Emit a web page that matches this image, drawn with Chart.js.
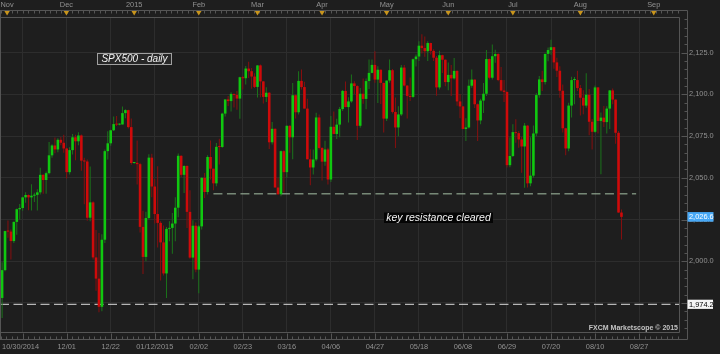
<!DOCTYPE html>
<html><head><meta charset="utf-8">
<script src="https://cdn.jsdelivr.net/npm/chart.js@4/dist/chart.umd.min.js"></script>
<style>html,body{margin:0;padding:0;background:#1e1e1e;}canvas{display:block;}</style>
</head><body>
<canvas id="c" width="720" height="354" style="width:720px;height:354px"></canvas>
<script>
// ---- data (daily candles, one per weekday) ----
const DATES = ['10/30','10/31',
'11/03','11/04','11/05','11/06','11/07','11/10','11/11','11/12','11/13','11/14','11/17','11/18','11/19','11/20','11/21','11/24','11/25','11/26','11/27','11/28',
'12/01','12/02','12/03','12/04','12/05','12/08','12/09','12/10','12/11','12/12','12/15','12/16','12/17','12/18','12/19','12/22','12/23','12/24','12/25','12/26','12/29','12/30','12/31',
'01/01','01/02','01/05','01/06','01/07','01/08','01/09','01/12','01/13','01/14','01/15','01/16','01/19','01/20','01/21','01/22','01/23','01/26','01/27','01/28','01/29','01/30',
'02/02','02/03','02/04','02/05','02/06','02/09','02/10','02/11','02/12','02/13','02/16','02/17','02/18','02/19','02/20','02/23','02/24','02/25','02/26','02/27',
'03/02','03/03','03/04','03/05','03/06','03/09','03/10','03/11','03/12','03/13','03/16','03/17','03/18','03/19','03/20','03/23','03/24','03/25','03/26','03/27','03/30','03/31',
'04/01','04/02','04/03','04/06','04/07','04/08','04/09','04/10','04/13','04/14','04/15','04/16','04/17','04/20','04/21','04/22','04/23','04/24','04/27','04/28','04/29','04/30',
'05/01','05/04','05/05','05/06','05/07','05/08','05/11','05/12','05/13','05/14','05/15','05/18','05/19','05/20','05/21','05/22','05/25','05/26','05/27','05/28','05/29',
'06/01','06/02','06/03','06/04','06/05','06/08','06/09','06/10','06/11','06/12','06/15','06/16','06/17','06/18','06/19','06/22','06/23','06/24','06/25','06/26','06/29','06/30',
'07/01','07/02','07/03','07/06','07/07','07/08','07/09','07/10','07/13','07/14','07/15','07/16','07/17','07/20','07/21','07/22','07/23','07/24','07/27','07/28','07/29','07/30','07/31',
'08/03','08/04','08/05','08/06','08/07','08/10','08/11','08/12','08/13','08/14','08/17','08/18','08/19','08/20','08/21'];

const OPEN = [1978.0,1994.7,2018.1,2017.8,2012.1,2023.6,2031.2,2031.9,2038.3,2039.7,
2038.3,2039.3,2039.8,2041.3,2051.8,2048.7,2052.8,2063.5,2069.4,2067.0,
2072.8,2071.0,2067.6,2053.4,2066.6,2074.3,2071.9,2075.4,2060.3,2059.8,
2026.1,2035.3,2002.3,1989.6,1972.7,2012.9,2066.0,2070.7,2078.5,2082.2,
2081.9,2082.0,2088.8,2090.6,2080.4,2058.9,2059.0,2058.2,2020.6,2002.6,
2025.9,2062.1,2044.8,2028.3,2023.0,2011.3,1992.7,2019.4,2020.0,2022.6,
2032.1,2063.2,2051.8,2057.1,2029.6,2002.2,2021.3,1995.0,2020.9,2050.0,
2041.5,2062.5,2055.5,2046.7,2068.6,2068.5,2088.5,2097.0,2096.0,2100.3,
2099.7,2097.5,2110.3,2109.7,2115.5,2113.9,2110.7,2104.5,2117.4,2107.8,
2098.5,2101.0,2071.3,2079.4,2044.2,2040.2,2066.0,2053.4,2081.2,2074.3,
2099.5,2089.3,2108.1,2104.4,2091.5,2061.1,2056.2,2061.0,2086.2,2067.9,
2059.7,2067.0,2049.0,2080.6,2076.3,2081.9,2091.2,2102.1,2092.4,2095.8,
2106.6,2105.0,2081.2,2100.4,2097.3,2108.0,2112.9,2117.7,2108.9,2114.8,
2106.9,2085.5,2108.3,2114.5,2089.5,2080.2,2088.0,2116.1,2105.3,2099.1,
2098.5,2121.1,2122.7,2129.2,2127.8,2125.9,2130.8,2126.1,2122.0,2104.2,
2123.5,2120.8,2107.4,2111.7,2109.6,2114.1,2095.8,2092.8,2079.3,2080.2,
2105.2,2108.9,2094.1,2084.4,2096.3,2100.4,2121.2,2110.0,2122.9,2124.2,
2108.6,2102.3,2101.5,2057.6,2063.1,2077.4,2076.8,2073.0,2068.8,2081.3,
2046.7,2051.3,2076.6,2099.6,2109.0,2107.4,2124.3,2126.6,2128.3,2119.2,
2114.2,2102.2,2079.7,2067.6,2093.3,2108.6,2108.6,2103.8,2098.0,2093.3,
2099.8,2083.6,2077.6,2104.2,2084.1,2086.1,2083.4,2091.5,2102.4,2096.9,2077.0,2029.2];

const HIGH = [1999.4,2018.3,2024.5,2019.0,2023.9,2031.6,2034.3,2038.7,2041.3,2040.0,
2046.2,2041.1,2043.1,2056.1,2052.1,2053.8,2071.5,2070.2,2074.2,2073.8,
2074.5,2075.8,2068.0,2068.4,2076.3,2075.8,2077.3,2076.0,2062.0,2061.0,
2056.8,2036.0,2018.7,2016.9,2016.2,2067.0,2077.9,2078.8,2086.7,2087.1,
2082.5,2092.7,2091.1,2090.8,2085.6,2059.5,2072.4,2059.0,2030.3,2029.6,
2064.1,2064.4,2049.3,2056.9,2024.0,2021.4,2020.5,2024.0,2028.9,2038.3,
2064.6,2063.5,2057.6,2057.5,2042.5,2024.6,2023.3,2021.7,2050.3,2052.9,
2063.6,2072.4,2055.5,2070.9,2073.5,2089.0,2097.0,2099.0,2101.3,2100.5,
2102.1,2110.6,2111.0,2117.0,2119.6,2115.8,2112.7,2117.5,2117.9,2108.0,
2104.3,2101.5,2083.5,2079.6,2050.1,2066.4,2066.5,2081.4,2081.5,2106.9,
2100.0,2113.9,2114.9,2107.6,2097.4,2067.2,2067.0,2089.0,2088.0,2068.5,
2072.2,2068.0,2087.0,2089.8,2085.4,2092.4,2102.6,2107.7,2098.3,2111.9,
2107.9,2105.5,2103.9,2109.6,2109.6,2120.9,2120.9,2125.9,2116.9,2115.0,
2107.0,2108.4,2120.9,2115.2,2098.2,2092.9,2117.7,2117.7,2105.5,2110.2,
2121.5,2123.9,2131.8,2136.0,2134.7,2131.8,2131.0,2127.0,2123.0,2126.2,
2123.8,2121.0,2119.2,2117.6,2121.9,2114.5,2100.2,2093.0,2085.7,2109.0,
2115.0,2109.0,2094.5,2097.4,2106.8,2126.6,2121.5,2129.9,2126.7,2124.6,
2116.5,2108.6,2101.8,2074.3,2082.1,2085.1,2078.0,2074.6,2082.8,2081.5,
2074.3,2081.3,2100.7,2111.0,2114.2,2124.4,2128.1,2132.8,2128.6,2122.0,
2116.9,2106.0,2080.0,2095.0,2110.6,2110.5,2114.2,2105.7,2102.5,2112.7,
2103.3,2085.3,2105.4,2104.5,2089.1,2093.0,2092.9,2102.7,2103.5,2097.0,2078.0,2031.0];

const LOW = [1966.0,1994.0,2014.1,2001.0,2011.0,2015.9,2025.1,2030.2,2035.1,2030.6,
2030.4,2035.5,2030.4,2040.0,2040.4,2040.5,2052.0,2062.0,2064.8,2065.4,
2069.5,2065.1,2049.6,2052.0,2064.0,2060.5,2069.6,2054.3,2034.2,2024.3,
2024.0,2001.0,1982.3,1969.5,1970.0,2011.0,2061.0,2069.3,2078.0,2081.0,
2081.5,2081.9,2085.7,2079.5,2057.9,2058.5,2046.0,2017.3,1992.4,2000.0,
2025.0,2038.3,2022.6,2008.3,1988.4,1991.5,1978.0,2012.0,2004.5,2012.0,
2026.4,2050.5,2040.9,2019.9,2001.5,1989.2,1993.4,1980.9,2019.0,2037.9,
2040.0,2049.0,2042.6,2045.0,2058.0,2068.0,2086.7,2093.0,2089.8,2092.2,
2090.8,2085.4,2103.0,2105.9,2109.9,2103.4,2103.8,2098.1,2098.3,2094.5,
2095.5,2067.3,2070.0,2044.2,2039.7,2039.0,2041.2,2050.0,2065.1,2061.2,
2085.6,2088.0,2103.0,2091.5,2061.1,2045.5,2052.0,2060.0,2067.0,2048.4,
2057.3,2046.0,2047.5,2076.1,2073.3,2074.4,2090.0,2092.3,2083.2,2095.0,
2100.3,2072.7,2080.0,2094.4,2091.1,2103.2,2112.7,2107.0,2094.9,2094.3,
2077.1,2084.0,2107.0,2088.5,2067.9,2075.0,2087.0,2104.8,2085.6,2096.0,
2098.0,2116.8,2120.0,2124.5,2122.6,2120.0,2123.9,2120.0,2099.2,2103.0,
2112.8,2104.9,2102.5,2099.1,2109.0,2093.2,2085.7,2079.1,2072.1,2079.5,
2104.0,2091.9,2072.1,2082.1,2088.9,2099.1,2108.9,2109.0,2119.0,2107.9,
2101.8,2095.4,2056.2,2056.3,2062.5,2071.0,2068.0,2053.0,2044.0,2044.2,
2045.0,2050.0,2075.0,2098.0,2102.1,2106.0,2119.9,2123.7,2115.4,2110.4,
2098.0,2077.1,2063.5,2066.0,2086.1,2094.1,2102.1,2087.3,2088.1,2092.0,
2075.5,2067.0,2077.0,2076.6,2052.1,2080.4,2076.6,2079.3,2094.1,2070.5,2029.0,2013.0];

const CLOSE = [1994.7,2018.1,2017.8,2012.1,2023.6,2031.2,2031.9,2038.3,2039.7,2038.3,
2039.3,2039.8,2041.3,2051.8,2048.7,2052.8,2063.5,2069.4,2067.0,2072.8,
2071.0,2067.6,2053.4,2066.6,2074.3,2071.9,2075.4,2060.3,2059.8,2026.1,
2035.3,2002.3,1989.6,1972.7,2012.9,2066.0,2070.7,2078.5,2082.2,2081.9,
2082.0,2088.8,2090.6,2080.4,2058.9,2059.0,2058.2,2020.6,2002.6,2025.9,
2062.1,2044.8,2028.3,2023.0,2011.3,1992.7,2019.4,2020.0,2022.6,2032.1,
2063.2,2051.8,2057.1,2029.6,2002.2,2021.3,1995.0,2020.9,2050.0,2041.5,
2062.5,2055.5,2046.7,2068.6,2068.5,2088.5,2097.0,2096.0,2100.3,2099.7,
2097.5,2110.3,2109.7,2115.5,2113.9,2110.7,2104.5,2117.4,2107.8,2098.5,
2101.0,2071.3,2079.4,2044.2,2040.2,2066.0,2053.4,2081.2,2074.3,2099.5,
2089.3,2108.1,2104.4,2091.5,2061.1,2056.2,2061.0,2086.2,2067.9,2059.7,
2067.0,2049.0,2080.6,2076.3,2081.9,2091.2,2102.1,2092.4,2095.8,2106.6,
2105.0,2081.2,2100.4,2097.3,2108.0,2112.9,2117.7,2108.9,2114.8,2106.9,
2085.5,2108.3,2114.5,2089.5,2080.2,2088.0,2116.1,2105.3,2099.1,2098.5,
2121.1,2122.7,2129.2,2127.8,2125.9,2130.8,2126.1,2122.0,2104.2,2123.5,
2120.8,2107.4,2111.7,2109.6,2114.1,2095.8,2092.8,2079.3,2080.2,2105.2,
2108.9,2094.1,2084.4,2096.3,2100.4,2121.2,2110.0,2122.9,2124.2,2108.6,
2102.3,2101.5,2057.6,2063.1,2077.4,2076.8,2073.0,2068.8,2081.3,2046.7,
2051.3,2076.6,2099.6,2109.0,2107.4,2124.3,2126.6,2128.3,2119.2,2114.2,
2102.2,2079.7,2067.6,2093.3,2108.6,2108.6,2103.8,2098.0,2093.3,2099.8,
2083.6,2077.6,2104.2,2084.1,2086.1,2083.4,2091.5,2102.4,2096.9,2077.0,2029.2,2026.6];

// axis labels (positions given in bar-index units)
const BOTTOM_TICKS  = [6.3, 7, 22, 37, 52, 67, 82, 97, 112, 127, 142, 157, 172, 187, 202, 217];
const BOTTOM_LABELS = ['10/30/2014','', '12/01','12/22','01/12/2015','02/02','02/23','03/16','04/06','04/27','05/18','06/08','06/29','07/20','08/10','08/27'];
const MONTH_TICKS   = [1.7, 21.9, 45, 67, 87, 109, 131, 152, 174, 197, 222];
const MONTH_LABELS  = ['Nov','Dec','2015','Feb','Mar','Apr','May','Jun','Jul','Aug','Sep'];
const PRICE_TICKS   = [1975, 2000, 2025, 2050, 2075, 2100, 2125];

// drawn levels
const RESIST_LEVEL = 2040.4, RESIST_FROM = 72, RESIST_TO = 216;
const SUPPORT_LEVEL = 1974.2;
const TITLE = 'SPX500 - daily';
const NOTE = 'key resistance cleared';
const WATERMARK = 'FXCM Marketscope \u00A9 2015';

// ---- view ----
const X_MIN = -0.716, X_MAX = 230.6, Y_MIN = 1957.6, Y_MAX = 2146.4;
const FONT = '"Liberation Sans", Arial, sans-serif';
const BG = '#1e1e1e', GRID = '#2d2d2d', AXIS_TXT = '#929292', FRAME = '#555555';
const UP_BODY = '#10c810', DN_BODY = '#cf0a0a', UP_WICK = '#1b741b', DN_WICK = '#870f0f';

const isUp = i => CLOSE[i] >= OPEN[i];
const fmt = v => v.toLocaleString('en-US', {minimumFractionDigits: 1, maximumFractionDigits: 1});

const bodies = DATES.map((d, i) => ({x: i, y: [OPEN[i], CLOSE[i]]}));
const wicks  = DATES.map((d, i) => ({x: i, y: [LOW[i], HIGH[i]]}));

function fixAxis(h, w) {
  return s => {
    if (h !== null) s.height = h;
    if (w !== null) s.width = w;
    s.paddingLeft = 0; s.paddingRight = 0; s.paddingTop = 0; s.paddingBottom = 0;
  };
}

const overlay = {
  id: 'overlay',
  beforeDraw(chart) {
    const c = chart.ctx;
    c.save(); c.fillStyle = BG; c.fillRect(0, 0, chart.width, chart.height); c.restore();
  },
  afterDraw(chart) {
    const c = chart.ctx, xs = chart.scales.x, xt = chart.scales.xTop, ys = chart.scales.y, a = chart.chartArea;
    c.save();
    c.lineWidth = 1;
    c.strokeStyle = FRAME;
    const L = a.left, R = a.right, T = a.top, B = a.bottom;
    const OT = 10.5, OR = 687.5, OB = 339.5;
    c.beginPath();
    c.moveTo(L + 0.5, T + 0.5); c.lineTo(R + 0.5, T + 0.5); c.lineTo(R + 0.5, B + 0.5); c.lineTo(L + 0.5, B + 0.5); c.closePath();
    c.moveTo(0, OT); c.lineTo(OR, OT); c.lineTo(OR, OB); c.lineTo(0, OB);
    c.moveTo(0.5, OT); c.lineTo(0.5, OB);
    c.stroke();
    c.beginPath();
    for (let m = -4; ; m++) {
      const v = 7 + m * 1.875;
      if (v > X_MAX) break;
      if (v < X_MIN) continue;
      const px = Math.round(xs.getPixelForValue(v)) + 0.5;
      const major = (m % 8 === 0);
      c.moveTo(px, OT); c.lineTo(px, OT + 3);
      c.moveTo(px, OB); c.lineTo(px, OB - (major ? 6 : 3));
    }
    for (let v = 1960; v <= 2145; v += 5) {
      const py = Math.round(ys.getPixelForValue(v)) + 0.5;
      const major = (v % 25 === 0);
      c.moveTo(OR, py); c.lineTo(OR - (major ? 6 : 3), py);
    }
    c.stroke();
    c.fillStyle = '#c9951c';
    MONTH_TICKS.forEach(v => {
      const px = xt.getPixelForValue(v);
      c.beginPath(); c.moveTo(px - 2.7, 11); c.lineTo(px + 2.7, 11); c.lineTo(px, 15.5); c.closePath(); c.fill();
    });
    c.fillStyle = '#272727'; c.fillRect(97, 54, 74, 11);
    c.strokeStyle = '#a0a0a0'; c.strokeRect(97.5, 53.5, 74, 11);
    c.font = 'italic 10px ' + FONT; c.fillStyle = '#f4f4f4'; c.textAlign = 'center'; c.textBaseline = 'middle';
    c.fillText(TITLE, 134.5, 59.5);
    c.fillStyle = '#050505'; c.fillRect(384, 212.5, 109, 10.5);
    c.font = 'italic 10.5px ' + FONT; c.fillStyle = '#f4f4f4';
    c.fillText(NOTE, 438.5, 218);
    c.font = 'bold 7px ' + FONT; c.fillStyle = '#c4c4c4'; c.textAlign = 'right';
    c.fillText(WATERMARK, 678, 328.5);
    c.textAlign = 'left'; c.font = '7.4px ' + FONT;
    const lastY = ys.getPixelForValue(CLOSE[CLOSE.length - 1]);
    c.fillStyle = '#47a8f5'; c.fillRect(687.5, lastY - 4.8, 26, 9.6);
    c.fillStyle = '#ffffff'; c.fillText(fmt(CLOSE[CLOSE.length - 1]), 689, lastY + 0.3);
    const supY = ys.getPixelForValue(SUPPORT_LEVEL);
    c.fillStyle = '#f6f6f6'; c.fillRect(687.5, supY - 4.6, 25.5, 9.2);
    c.fillStyle = '#000000'; c.fillText(fmt(SUPPORT_LEVEL), 689, supY + 0.3);
    c.restore();
  }
};

new Chart(document.getElementById('c'), {
  type: 'bar',
  data: {
    datasets: [
      {label: 'body', data: bodies, xAxisID: 'x', yAxisID: 'y', order: 1, grouped: false,
       barThickness: 2.6, minBarLength: 1, inflateAmount: 0, borderWidth: 0,
       backgroundColor: ctx => isUp(ctx.dataIndex) ? UP_BODY : DN_BODY},
      {label: 'wick', data: wicks, xAxisID: 'x', yAxisID: 'y', order: 2, grouped: false,
       barThickness: 1, inflateAmount: 0, borderWidth: 0,
       backgroundColor: ctx => isUp(ctx.dataIndex) ? UP_WICK : DN_WICK},
      {type: 'line', label: 'resistance', xAxisID: 'x', yAxisID: 'y', order: 3,
       data: [{x: RESIST_FROM, y: RESIST_LEVEL}, {x: RESIST_TO, y: RESIST_LEVEL}],
       borderColor: '#a6c0a6', borderWidth: 1, borderDash: [9, 4.5], pointRadius: 0, fill: false, tension: 0},
      {type: 'line', label: 'support', xAxisID: 'x', yAxisID: 'y', order: 3,
       data: [{x: X_MIN, y: SUPPORT_LEVEL}, {x: X_MAX, y: SUPPORT_LEVEL}],
       borderColor: '#dcdcdc', borderWidth: 1, borderDash: [9, 4.5], pointRadius: 0, fill: false, tension: 0}
    ]
  },
  options: {
    responsive: false, animation: false, devicePixelRatio: 1,
    layout: {padding: 0},
    plugins: {legend: {display: false}, tooltip: {enabled: false}},
    scales: {
      x: {
        type: 'linear', position: 'bottom', min: X_MIN, max: X_MAX, offset: false, bounds: 'data',
        afterBuildTicks: s => { s.ticks = BOTTOM_TICKS.map(v => ({value: v})); },
        afterFit: fixAxis(22, null),
        grid: {offset: false, drawTicks: false, color: ctx => (ctx.tick && ctx.tick.value === 6.3) ? 'rgba(0,0,0,0)' : GRID},
        border: {display: false},
        ticks: {autoSkip: false, maxRotation: 0, padding: 10.5, color: AXIS_TXT, font: {family: FONT, size: 7.4},
                callback: (v, i) => BOTTOM_LABELS[i]}
      },
      xTop: {
        type: 'linear', position: 'top', min: X_MIN, max: X_MAX, offset: false, bounds: 'data',
        afterBuildTicks: s => { s.ticks = MONTH_TICKS.map(v => ({value: v})); },
        afterFit: fixAxis(17, null),
        grid: {display: false, offset: false, drawTicks: false},
        border: {display: false},
        ticks: {autoSkip: false, maxRotation: 0, padding: 7.6, color: AXIS_TXT, font: {family: FONT, size: 7.4},
                callback: (v, i) => MONTH_LABELS[i]}
      },
      y: {
        type: 'linear', position: 'right', min: Y_MIN, max: Y_MAX, beginAtZero: false, bounds: 'data',
        afterBuildTicks: s => { s.ticks = PRICE_TICKS.map(v => ({value: v})); },
        afterFit: fixAxis(null, 41),
        grid: {drawTicks: false, color: GRID},
        border: {display: false},
        ticks: {padding: 10, color: AXIS_TXT, font: {family: FONT, size: 7.4}, callback: v => fmt(v)}
      }
    }
  },
  plugins: [overlay]
});
</script>
</body></html>
